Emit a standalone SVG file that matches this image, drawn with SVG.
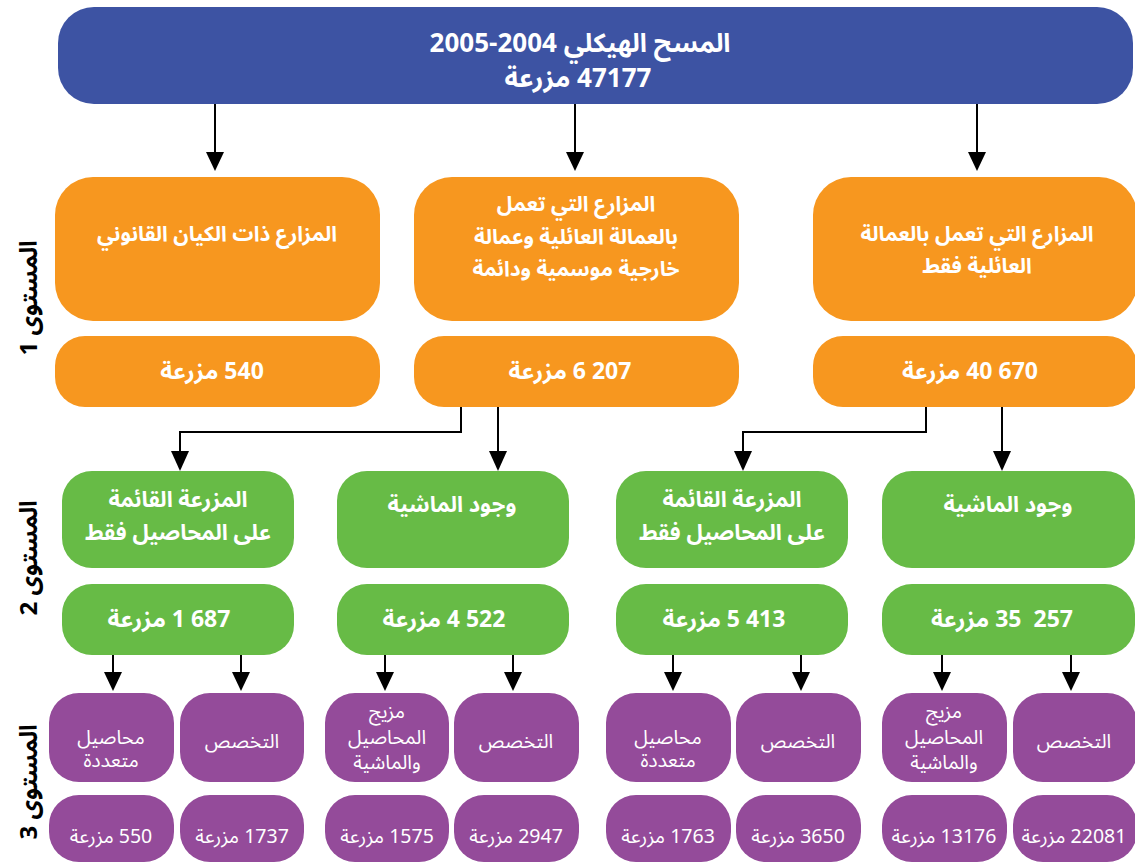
<svg xmlns="http://www.w3.org/2000/svg" width="1135" height="864" viewBox="0 0 1135 864">
<style>
text{font-family:"Noto Sans Arabic","DejaVu Sans",sans-serif;fill:#fff;text-anchor:middle;direction:rtl}
.h{font-size:26px;font-weight:bold}
.b{font-size:21px;font-weight:bold}
.g{font-size:22px;font-weight:bold}
.n{font-size:23px;font-weight:bold}
.p{font-size:19.5px}
.lv{font-size:24px;font-weight:bold;fill:#000}
.blue{fill:#3D53A3}
.or{fill:#F7971F}
.gr{fill:#67BB46}
.pu{fill:#944B9A}
.conn path{fill:none;stroke:#000;stroke-width:2}
.conn polygon{fill:#000}
</style>
<g id="header">
<rect class="blue" x="58" y="7" width="1075" height="97" rx="36"/>
<text class="h" x="580" y="52">المسح الهيكلي 2004-2005<tspan x="578" y="87">47177 مزرعة</tspan></text>
</g>
<g id="conn" class="conn">
<path d="M215,104V153M575,104V153M977,104V153"/>
<polygon points="206,152 224,152 215,171"/>
<polygon points="566,152 584,152 575,171"/>
<polygon points="968,152 986,152 977,171"/>
<path d="M461,407V432H180V452M498,407V452M926,407V432H743V452M1002,407V452"/>
<polygon points="171,451 189,451 180,471"/>
<polygon points="489,451 507,451 498,471"/>
<polygon points="734,451 752,451 743,471"/>
<polygon points="993,451 1011,451 1002,471"/>
<path d="M113,655V673M241,655V673M385,655V673M513,655V673M673,655V673M801,655V673M942,655V673M1071,655V673"/>
<polygon points="104,672 122,672 113,691"/>
<polygon points="232,672 250,672 241,691"/>
<polygon points="376,672 394,672 385,691"/>
<polygon points="504,672 522,672 513,691"/>
<polygon points="664,672 682,672 673,691"/>
<polygon points="792,672 810,672 801,691"/>
<polygon points="933,672 951,672 942,691"/>
<polygon points="1062,672 1080,672 1071,691"/>
</g>
<g id="levels">
<text class="lv" transform="translate(37,298) rotate(-90)">المستوى 1</text>
<text class="lv" transform="translate(37,558) rotate(-90)">المستوى 2</text>
<text class="lv" transform="translate(37,782) rotate(-90)">المستوى 3</text>
</g>
<g id="o1">
<rect class="or" x="55" y="177" width="325" height="144" rx="38"/>
<text class="b" x="217" y="241">المزارع ذات الكيان القانوني</text>
</g>
<g id="o2">
<rect class="or" x="414" y="177" width="325" height="144" rx="38"/>
<text class="b" x="576" y="211">المزارع التي تعمل<tspan x="576" y="244">بالعمالة العائلية وعمالة</tspan><tspan x="576" y="276">خارجية موسمية ودائمة</tspan></text>
</g>
<g id="o3">
<rect class="or" x="813" y="177" width="324" height="144" rx="38"/>
<text class="b" x="977" y="241">المزارع التي تعمل بالعمالة<tspan x="977" y="273">العائلية فقط</tspan></text>
</g>
<g id="o1n">
<rect class="or" x="55" y="336" width="325" height="71" rx="30"/>
<text class="n" x="212" y="379">540 مزرعة</text>
</g>
<g id="o2n">
<rect class="or" x="414" y="336" width="325" height="71" rx="30"/>
<text class="n" x="570" y="379">207 6 مزرعة</text>
</g>
<g id="o3n">
<rect class="or" x="813" y="336" width="324" height="71" rx="30"/>
<text class="n" x="970" y="379">670 40 مزرعة</text>
</g>
<g id="g1">
<rect class="gr" x="62" y="471" width="232" height="97" rx="30"/>
<text class="g" x="178" y="507">المزرعة القائمة<tspan x="178" y="540">على المحاصيل فقط</tspan></text>
</g>
<g id="g2">
<rect class="gr" x="337" y="471" width="232" height="97" rx="30"/>
<text class="g" x="452" y="512">وجود الماشية</text>
</g>
<g id="g3">
<rect class="gr" x="616" y="471" width="232" height="97" rx="30"/>
<text class="g" x="732" y="507">المزرعة القائمة<tspan x="732" y="540">على المحاصيل فقط</tspan></text>
</g>
<g id="g4">
<rect class="gr" x="882" y="471" width="253" height="97" rx="30"/>
<text class="g" x="1008" y="512">وجود الماشية</text>
</g>
<g id="g1n">
<rect class="gr" x="62" y="584" width="232" height="71" rx="30"/>
<text class="n" x="169" y="627">687 1 مزرعة</text>
</g>
<g id="g2n">
<rect class="gr" x="337" y="584" width="232" height="71" rx="30"/>
<text class="n" x="444" y="627">522 4 مزرعة</text>
</g>
<g id="g3n">
<rect class="gr" x="616" y="584" width="232" height="71" rx="30"/>
<text class="n" x="724" y="627">413 5 مزرعة</text>
</g>
<g id="g4n">
<rect class="gr" x="882" y="584" width="253" height="71" rx="30"/>
<text class="n" x="1002" y="627" xml:space="preserve">257  35 مزرعة</text>
</g>
<g id="p1">
<rect class="pu" x="49" y="693" width="125" height="89" rx="30"/>
<text class="p" x="111" y="744">محاصيل<tspan x="111" y="767">متعددة</tspan></text>
</g>
<g id="p2">
<rect class="pu" x="180" y="693" width="124" height="89" rx="30"/>
<text class="p" x="242" y="748">التخصص</text>
</g>
<g id="p3">
<rect class="pu" x="325" y="693" width="124" height="89" rx="30"/>
<text class="p" x="387" y="718">مزيج<tspan x="387" y="744">المحاصيل</tspan><tspan x="387" y="769">والماشية</tspan></text>
</g>
<g id="p4">
<rect class="pu" x="454" y="693" width="125" height="89" rx="30"/>
<text class="p" x="516" y="748">التخصص</text>
</g>
<g id="p5">
<rect class="pu" x="606" y="693" width="125" height="89" rx="30"/>
<text class="p" x="668" y="744">محاصيل<tspan x="668" y="767">متعددة</tspan></text>
</g>
<g id="p6">
<rect class="pu" x="736" y="693" width="125" height="89" rx="30"/>
<text class="p" x="798" y="748">التخصص</text>
</g>
<g id="p7">
<rect class="pu" x="882" y="693" width="125" height="89" rx="30"/>
<text class="p" x="944" y="718">مزيج<tspan x="944" y="744">المحاصيل</tspan><tspan x="944" y="769">والماشية</tspan></text>
</g>
<g id="p8">
<rect class="pu" x="1013" y="693" width="124" height="89" rx="30"/>
<text class="p" x="1074" y="748">التخصص</text>
</g>
<g id="p1n">
<rect class="pu" x="49" y="795" width="125" height="67" rx="30"/>
<text class="p" x="111" y="843">550 مزرعة</text>
</g>
<g id="p2n">
<rect class="pu" x="180" y="795" width="124" height="67" rx="30"/>
<text class="p" x="242" y="843">1737 مزرعة</text>
</g>
<g id="p3n">
<rect class="pu" x="325" y="795" width="124" height="67" rx="30"/>
<text class="p" x="387" y="843">1575 مزرعة</text>
</g>
<g id="p4n">
<rect class="pu" x="454" y="795" width="125" height="67" rx="30"/>
<text class="p" x="516" y="843">2947 مزرعة</text>
</g>
<g id="p5n">
<rect class="pu" x="606" y="795" width="125" height="67" rx="30"/>
<text class="p" x="668" y="843">1763 مزرعة</text>
</g>
<g id="p6n">
<rect class="pu" x="736" y="795" width="125" height="67" rx="30"/>
<text class="p" x="798" y="843">3650 مزرعة</text>
</g>
<g id="p7n">
<rect class="pu" x="882" y="795" width="125" height="67" rx="30"/>
<text class="p" x="944" y="843">13176 مزرعة</text>
</g>
<g id="p8n">
<rect class="pu" x="1013" y="795" width="124" height="67" rx="30"/>
<text class="p" x="1074" y="843">22081 مزرعة</text>
</g>
</svg>
